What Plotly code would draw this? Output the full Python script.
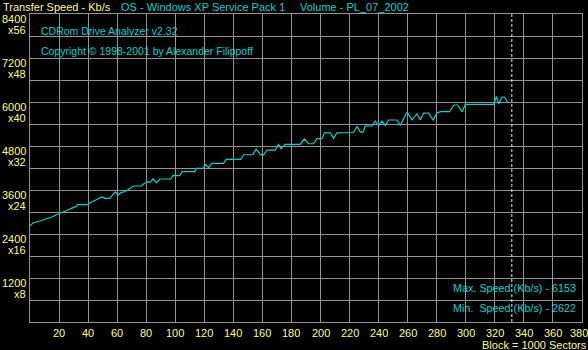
import plotly.graph_objects as go

# ---------------- data ----------------
block = [0, 2.1, 4.3, 7.8, 11.2, 15.2, 18.1, 21.6, 25, 28.5, 31.9, 32.6, 39.5, 41.1, 44.6,
         48, 49.6, 51.5, 54.9, 58.8, 60.6, 62.9, 65.3, 67.5, 71, 76.7, 79, 81.3, 82.7, 84.7,
         87, 89.4, 96.9, 98.5, 103.1, 104.7, 113.7, 114.4, 119.4, 120.6, 122.9, 125.2, 133.2,
         135.1, 145.2, 147, 153.4, 155.7, 158.5, 160.8, 163.1, 168.8, 171.1, 172.9, 175.7, 186,
         188.8, 191.8, 195.2, 197.5, 201, 202.8, 206.7, 209, 211.3, 222.8, 225.1, 227.4, 229.4,
         230.8, 235.4, 237.7, 240, 242.3, 244.6, 246.9, 252.7, 254.9, 259.6, 263, 266.4, 268.7,
         271, 274.4, 277.5, 280.2, 282.5, 288.9, 291.7, 294.4, 297.5, 299.7, 319.2, 321.1,
         322.7, 325, 326.6, 328.9]
speed = [2622, 2700, 2727, 2762, 2817, 2863, 2926, 2973, 3035, 3098, 3152, 3199, 3199, 3245, 3316,
         3390, 3409, 3371, 3371, 3545, 3463, 3534, 3553, 3608, 3709, 3709, 3791, 3826, 3807, 3900,
         3799, 3900, 3900, 3998, 3990, 4100, 4100, 4189, 4189, 4298, 4208, 4325, 4325,
         4434, 4434, 4562, 4562, 4718, 4571, 4554, 4690, 4690, 4843, 4726, 4843, 4843,
         4990, 4862, 4862, 4999, 4999, 5160, 5160, 5007, 5160, 5168, 5334, 5181, 5181,
         5345, 5345, 5481, 5345, 5481, 5361, 5509, 5509, 5361, 5735, 5509, 5680, 5509,
         5699, 5699, 5509, 5699, 5735, 5735, 5918, 5918, 5735, 5934, 5934, 6153,
         5953, 6136, 6136, 5980]

x_ticks = [20, 40, 60, 80, 100, 120, 140, 160, 180, 200, 220, 240, 260, 280, 300, 320, 340, 360, 380]
y_ticks = [1200, 2400, 3600, 4800, 6000, 7200, 8400]
y_tick_labels = ["1200", "2400", "3600", "4800", "6000", "7200", "8400"]
y_speed_labels = ["x8", "x16", "x24", "x32", "x40", "x48", "x56"]
end_marker = 331.7

header_left = "Transfer Speed - Kb/s"
header_os = "OS - Windows XP Service Pack 1"
header_vol = "Volume - PL_07_2002"
app_name = "CDRom Drive Analyzer v2.32"
copyright_txt = "Copyright \u00a9 1998-2001 by Alexander Filippoff"
x_unit = "Block = 1000 Sectors"

# ---------------- style ----------------
W, H = 588, 350
L, R, T, B = 30, 6, 14, 28
PW, PH = W - L - R, H - T - B
GRID = "#949494"
CYAN = "#00d4d4"
YEL = "#ffff80"
FONT = "Liberation Sans"
FS = 11


def px(xp):
    return (xp - L) / PW


def py(yp):
    return (H - B - yp) / PH


fig = go.Figure()
fig.add_trace(go.Scatter(x=block, y=speed, mode="lines",
                         line=dict(color=CYAN, width=1.2), hoverinfo="skip"))

ann = []


def text(x, y, s, color, xanchor="left", xref="paper", yref="paper", xshift=0, yshift=0, size=FS):
    ann.append(dict(x=x, y=y, xref=xref, yref=yref, text=s, showarrow=False,
                    xanchor=xanchor, yanchor="middle", xshift=xshift, yshift=yshift,
                    font=dict(family=FONT, size=size, color=color)))


# header
text(px(1), py(7), header_left, YEL)
text(px(119), py(7), header_os, CYAN)
text(px(298), py(7), header_vol, CYAN)
# inner titles
text(px(39), py(31), app_name, CYAN, size=10.5)
text(px(39), py(51), copyright_txt, CYAN, size=10.5)

# y labels (two lines under each major gridline)
for v, a, b in zip(y_ticks, y_tick_labels, y_speed_labels):
    text(0, v, a, YEL, xanchor="right", yref="y", xshift=-2, yshift=-5)
    text(0, v, b, YEL, xanchor="right", yref="y", xshift=-2, yshift=-16)

# x labels
for v in x_ticks:
    ann.append(dict(x=v, y=0, xref="x", yref="paper", text=str(v), showarrow=False,
                    xanchor="center", yanchor="middle", yshift=-11,
                    xshift=-3 if v == x_ticks[-1] else 0,
                    font=dict(family=FONT, size=FS, color=YEL)))
text(px(588), py(344.5), x_unit, YEL, xanchor="right", xshift=1)

# max / min
text(px(577), py(287.7), "Max. Speed (Kb/s) - %d" % max(speed), CYAN, xanchor="right", xshift=1, size=10.8)
text(px(577), py(308.3), "Min.\u00a0 Speed (Kb/s) - %d" % min(speed), CYAN, xanchor="right", xshift=1, size=10.8)

fig.add_shape(type="line", x0=end_marker, x1=end_marker, xref="x", y0=0, y1=1, yref="paper",
              line=dict(color="#e8e8e8", width=1, dash="3px,2px"))

fig.update_layout(
    width=W, height=H,
    margin=dict(l=L, r=R, t=T, b=B, pad=0),
    paper_bgcolor="black", plot_bgcolor="black",
    showlegend=False,
    annotations=ann,
    xaxis=dict(range=[0, 380], tickvals=list(range(0, 381, 20)), showticklabels=False,
               showgrid=True, gridcolor=GRID, gridwidth=1, zeroline=False,
               showline=True, linecolor=GRID, linewidth=1, mirror=True, ticks="",
               fixedrange=True),
    yaxis=dict(range=[0, 8400], tickvals=list(range(0, 8401, 600)), showticklabels=False,
               showgrid=True, gridcolor=GRID, gridwidth=1, zeroline=False,
               showline=True, linecolor=GRID, linewidth=1, mirror=True, ticks="",
               fixedrange=True),
)

fig.write_html("out.html", config={"displayModeBar": False},
               post_script="document.body.style.margin='0';document.body.style.background='black';")
